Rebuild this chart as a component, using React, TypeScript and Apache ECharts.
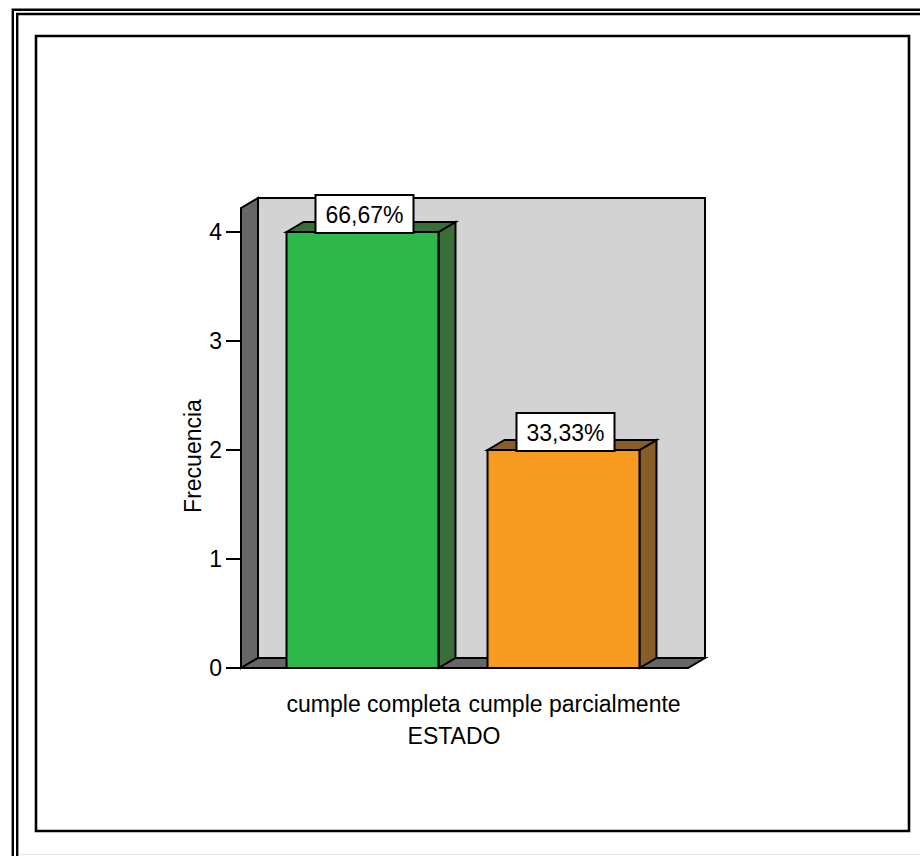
import React, { useEffect, useRef } from "react";
import * as echarts from "echarts";

// Frequency of each state
const categories = ["cumple completa", "cumple parcialmente"];
const frequencies = [4, 2];

// Bar face colours (front / side-top)
const barColors = ["#2eb84a", "#f89a20"];
const barShadeColors = ["#3b6e36", "#875e28"];

const FONT = "'Liberation Sans', Arial, Helvetica, sans-serif";
const FONT_SIZE = 23;
const DEPTH_X = 17; // 3D depth offset (px)
const DEPTH_Y = 10;
const WALL_TOP = 4.22; // height of the back/side walls in axis units

export default function App() {
  const ref = useRef<HTMLDivElement>(null);

  useEffect(() => {
    const chart = echarts.init(ref.current!, null, { renderer: "svg" });
    const total = frequencies.reduce((a, b) => a + b, 0);
    const pct = (v: number) => ((v / total) * 100).toFixed(2).replace(".", ",") + "%";

    const edge = { stroke: "#000", lineWidth: 2, lineJoin: "miter" as const };

    chart.setOption({
      animation: false,
      backgroundColor: "#fff",
      textStyle: { fontFamily: FONT, color: "#000" },
      grid: { left: 262, right: 256, top: 232, bottom: 188 },
      xAxis: {
        type: "category",
        data: categories,
        axisLine: { show: false },
        axisTick: { alignWithLabel: true, length: 16, lineStyle: { color: "#000", width: 2 } },
        axisLabel: {
          interval: 0,
          fontSize: FONT_SIZE,
          fontFamily: FONT,
          color: "#000",
          margin: 24,
          padding: [0, 0, 0, 22],
        },
        name: "ESTADO",
        nameLocation: "middle",
        nameGap: 56,
        nameTextStyle: {
          fontSize: FONT_SIZE,
          fontFamily: FONT,
          color: "#000",
          padding: [0, 18, 0, 0],
        },
      },
      yAxis: {
        type: "value",
        min: 0,
        max: 4,
        interval: 1,
        offset: 21,
        splitLine: { show: false },
        axisLine: { show: false },
        axisTick: { show: true, length: 15, lineStyle: { color: "#000", width: 2 } },
        axisLabel: { fontSize: FONT_SIZE, fontFamily: FONT, color: "#000", margin: 19 },
        name: "Frecuencia",
        nameLocation: "middle",
        nameGap: 37,
        nameTextStyle: {
          fontSize: FONT_SIZE,
          fontFamily: FONT,
          color: "#000",
          padding: [0, 12, 0, 0],
        },
      },
      graphic: [
        {
          type: "rect",
          silent: true,
          shape: { x: 12.8, y: 9.7, width: 1000, height: 1000 },
          style: { fill: "none", stroke: "#000", lineWidth: 2.4 },
        },
        {
          type: "rect",
          silent: true,
          shape: { x: 17.2, y: 14, width: 1000, height: 1000 },
          style: { fill: "none", stroke: "#000", lineWidth: 2.4 },
        },
        {
          type: "rect",
          silent: true,
          shape: { x: 36, y: 36, width: 873, height: 795 },
          style: { fill: "none", stroke: "#000", lineWidth: 2.6 },
        },
        {
          type: "line",
          silent: true,
          shape: { x1: 19, y1: 854.5, x2: 920, y2: 854.5 },
          style: { stroke: "#e6e6e6", lineWidth: 1 },
        },
      ],
      series: [
        {
          // back wall, side wall and floor
          type: "custom",
          silent: true,
          data: [[0, 0]],
          renderItem: (params: any, api: any) => {
            const cs = params.coordSys;
            const xl = cs.x - 21;
            const xr = cs.x + cs.width + 24;
            const y0 = api.coord([0, 0])[1];
            const yt = api.coord([0, WALL_TOP])[1];
            return {
              type: "group",
              children: [
                {
                  type: "rect",
                  shape: { x: xl + DEPTH_X, y: yt - DEPTH_Y, width: xr - xl, height: y0 - yt },
                  style: { fill: "#d3d3d3", ...edge },
                },
                {
                  type: "polygon",
                  shape: {
                    points: [
                      [xl, yt],
                      [xl + DEPTH_X, yt - DEPTH_Y],
                      [xl + DEPTH_X, y0 - DEPTH_Y],
                      [xl, y0],
                    ],
                  },
                  style: { fill: "#666666", ...edge },
                },
                {
                  type: "polygon",
                  shape: {
                    points: [
                      [xl, y0],
                      [xl + DEPTH_X, y0 - DEPTH_Y],
                      [xr + DEPTH_X, y0 - DEPTH_Y],
                      [xr, y0],
                    ],
                  },
                  style: { fill: "#666666", ...edge },
                },
              ],
            };
          },
        },
        {
          // 3D bars with percentage labels
          type: "custom",
          silent: true,
          data: frequencies.map((v, i) => [i, v]),
          encode: { x: 0, y: 1 },
          renderItem: (params: any, api: any) => {
            const i = api.value(0);
            const v = api.value(1);
            const [cx, top] = api.coord([i, v]);
            const base = api.coord([i, 0])[1];
            const w = api.size([1, 0])[0] * 0.756;
            const l = cx - w / 2;
            const r = cx + w / 2;
            const idx = params.dataIndex;
            return {
              type: "group",
              children: [
                {
                  type: "polygon",
                  shape: {
                    points: [
                      [r, top],
                      [r + DEPTH_X, top - DEPTH_Y],
                      [r + DEPTH_X, base - DEPTH_Y],
                      [r, base],
                    ],
                  },
                  style: { fill: barShadeColors[idx], ...edge },
                },
                {
                  type: "polygon",
                  shape: {
                    points: [
                      [l, top],
                      [l + DEPTH_X, top - DEPTH_Y],
                      [r + DEPTH_X, top - DEPTH_Y],
                      [r, top],
                    ],
                  },
                  style: { fill: barShadeColors[idx], ...edge },
                },
                {
                  type: "rect",
                  shape: { x: l, y: top, width: w, height: base - top },
                  style: { fill: barColors[idx], ...edge },
                },
                {
                  type: "text",
                  x: cx + 2,
                  y: top,
                  style: {
                    text: pct(v),
                    fontSize: FONT_SIZE,
                    fontFamily: FONT,
                    fill: "#000",
                    align: "center",
                    verticalAlign: "bottom",
                    backgroundColor: "#fff",
                    borderColor: "#000",
                    borderWidth: 2,
                    padding: [7, 9, 6, 9],
                  },
                },
              ],
            };
          },
        },
      ],
    });

    return () => chart.dispose();
  }, []);

  return (
    <div
      ref={ref}
      style={{ position: "fixed", left: 0, top: 0, width: 920, height: 856, background: "#fff" }}
    />
  );
}
